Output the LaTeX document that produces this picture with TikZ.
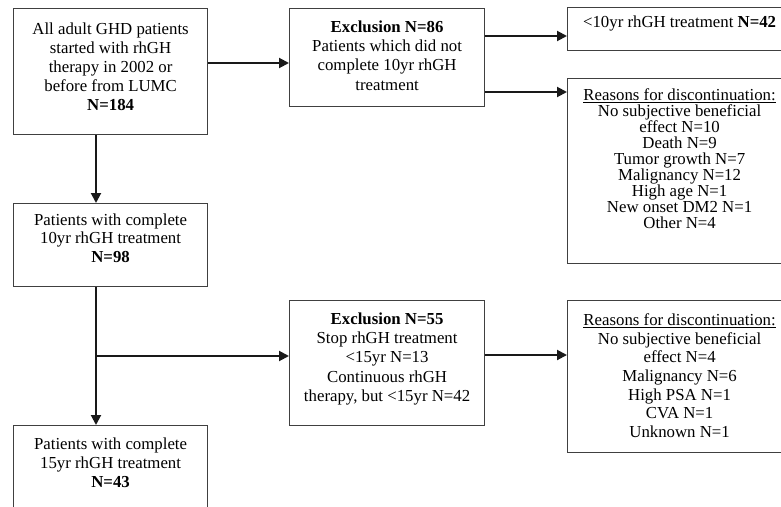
\documentclass[tikz,border=0pt]{standalone}
\usepackage{fontspec}
\setmainfont{Liberation Serif}
\usetikzlibrary{arrows.meta}
\newcommand\bxtext[5]{\parbox[c][#2pt][t]{#1pt}{\centering\fontsize{16.8}{#3}\selectfont\vspace*{#4pt}#5\par}}
\tikzset{
  box/.style={draw=black!75, line width=1.2pt, inner sep=0pt, rectangle, anchor=north west},
  arr/.style={draw=black!90, line width=2pt, -{Triangle[length=10pt,width=10pt]}}
}
\begin{document}
\begin{tikzpicture}[x=1pt,y=1pt]
\clip (0,0) rectangle (781,-506);
\fill[white] (0,0) rectangle (781,-506);
\node[box] (b1) at (13,-8) {\bxtext{194}{126}{19}{14}{All adult GHD patients\\started with rhGH\\therapy in 2002 or\\before from LUMC\\\textbf{N=184}}};
\node[box] (b2) at (289,-8) {\bxtext{195}{98}{19.3}{12}{\textbf{Exclusion N=86}\\Patients which did not\\complete 10yr rhGH\\treatment}};
\node[box] (b3) at (567,-7) {\bxtext{224}{43}{19}{8}{<10yr rhGH treatment \textbf{N=42}}};
\node[box] (b4) at (567,-78) {\bxtext{224}{185}{16}{10}{\underline{Reasons for discontinuation:}\\No subjective beneficial\\effect N=10\\Death N=9\\Tumor growth N=7\\Malignancy N=12\\High age N=1\\New onset DM2 N=1\\Other N=4}};
\node[box] (b5) at (13,-203) {\bxtext{194}{83}{18.7}{10}{Patients with complete\\10yr rhGH treatment\\\textbf{N=98}}};
\node[box] (b6) at (13,-425) {\bxtext{194}{115}{19}{12}{Patients with complete\\15yr rhGH treatment\\\textbf{N=43}}};
\node[box] (b7) at (289,-300) {\bxtext{195}{125}{19.3}{12}{\textbf{Exclusion N=55}\\Stop rhGH treatment\\<15yr N=13\\Continuous rhGH\\therapy, but <15yr N=42}};
\node[box] (b8) at (567,-300) {\bxtext{224}{152}{18.7}{13}{\underline{Reasons for discontinuation:}\\No subjective beneficial\\effect N=4\\Malignancy N=6\\High PSA N=1\\CVA N=1\\Unknown N=1}};
\coordinate (br) at (96,-356);
\draw[arr] (b1.east |- 0,-63) -- (b2.west |- 0,-63);
\draw[arr] (b2.east |- 0,-36) -- (b3.west |- 0,-36);
\draw[arr] (b2.east |- 0,-92) -- (b4.west |- 0,-92);
\draw[arr] (b1.south -| br) -- (b5.north -| br);
\draw[arr] (b5.south -| br) -- (b6.north -| br);
\draw[arr] (br) -- (b7.west |- br);
\draw[arr] (b7.east |- 0,-355) -- (b8.west |- 0,-355);
\end{tikzpicture}
\end{document}
